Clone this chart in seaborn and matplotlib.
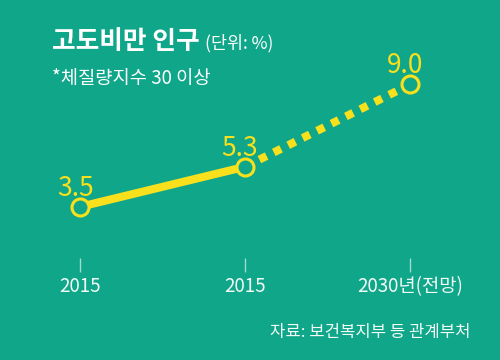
import matplotlib
matplotlib.use("Agg")
import matplotlib.pyplot as plt
import seaborn as sns
import numpy as np
import pandas as pd

categories = ["2015", "2015", "2030년(전망)"]
values = [3.5, 5.3, 9.0]
value_labels = ["3.5", "5.3", "9.0"]

BG = "#10a68a"
YEL = "#f8e11c"
WHITE = "#f2fbf6"

sns.set_theme(style="white")
plt.rcParams['font.family'] = ['Noto Sans CJK KR', 'DejaVu Sans']

fig = plt.figure(figsize=(5, 3.6), dpi=100)
fig.patch.set_facecolor(BG)
ax = fig.add_axes([0.06, 0.2833, 0.88, 0.55])
ax.set_facecolor(BG)

pos = np.arange(len(categories))
df = pd.DataFrame({"pos": pos, "value": values})
sns.lineplot(data=df.iloc[:2], x="pos", y="value", ax=ax, color=YEL, linewidth=5.8,
             solid_capstyle="butt")
sns.lineplot(data=df.iloc[1:], x="pos", y="value", ax=ax, color=YEL, linewidth=5.8,
             linestyle=(0, (1, 1)), dash_capstyle="butt")
ax.scatter(df["pos"], df["value"], s=150, facecolor=BG, edgecolor=YEL, linewidth=2.2, zorder=5)

for p, v, t in zip(pos, values, value_labels):
    ax.text(p - 0.03, v + 0.5, t, ha="center", va="baseline", color=YEL, fontsize=19)

ax.set_xlim(-0.303, 2.364)
ax.set_ylim(1.2, 10.1)
ax.set_xticks(pos)
ax.set_xticklabels(categories, color=WHITE, fontsize=13.5)
ax.set_yticks([])
ax.tick_params(axis="x", length=10, width=1, color="#9edccb", pad=3, bottom=True)
for s in ax.spines.values():
    s.set_visible(False)
ax.set_xlabel("")
ax.set_ylabel("")

fig.text(0.104, 0.865, "고도비만 인구", color="white", fontsize=18.5, fontweight="bold", va="baseline")
fig.text(0.41, 0.865, "(단위: %)", color="white", fontsize=12.5, va="baseline")
fig.text(0.104, 0.768, "*체질량지수 30 이상", color="white", fontsize=13.5, va="baseline")
fig.text(0.94, 0.065, "자료: 보건복지부 등 관계부처", color=WHITE, fontsize=12, ha="right", va="baseline")

fig.savefig("out.png", dpi=100, facecolor=BG)
